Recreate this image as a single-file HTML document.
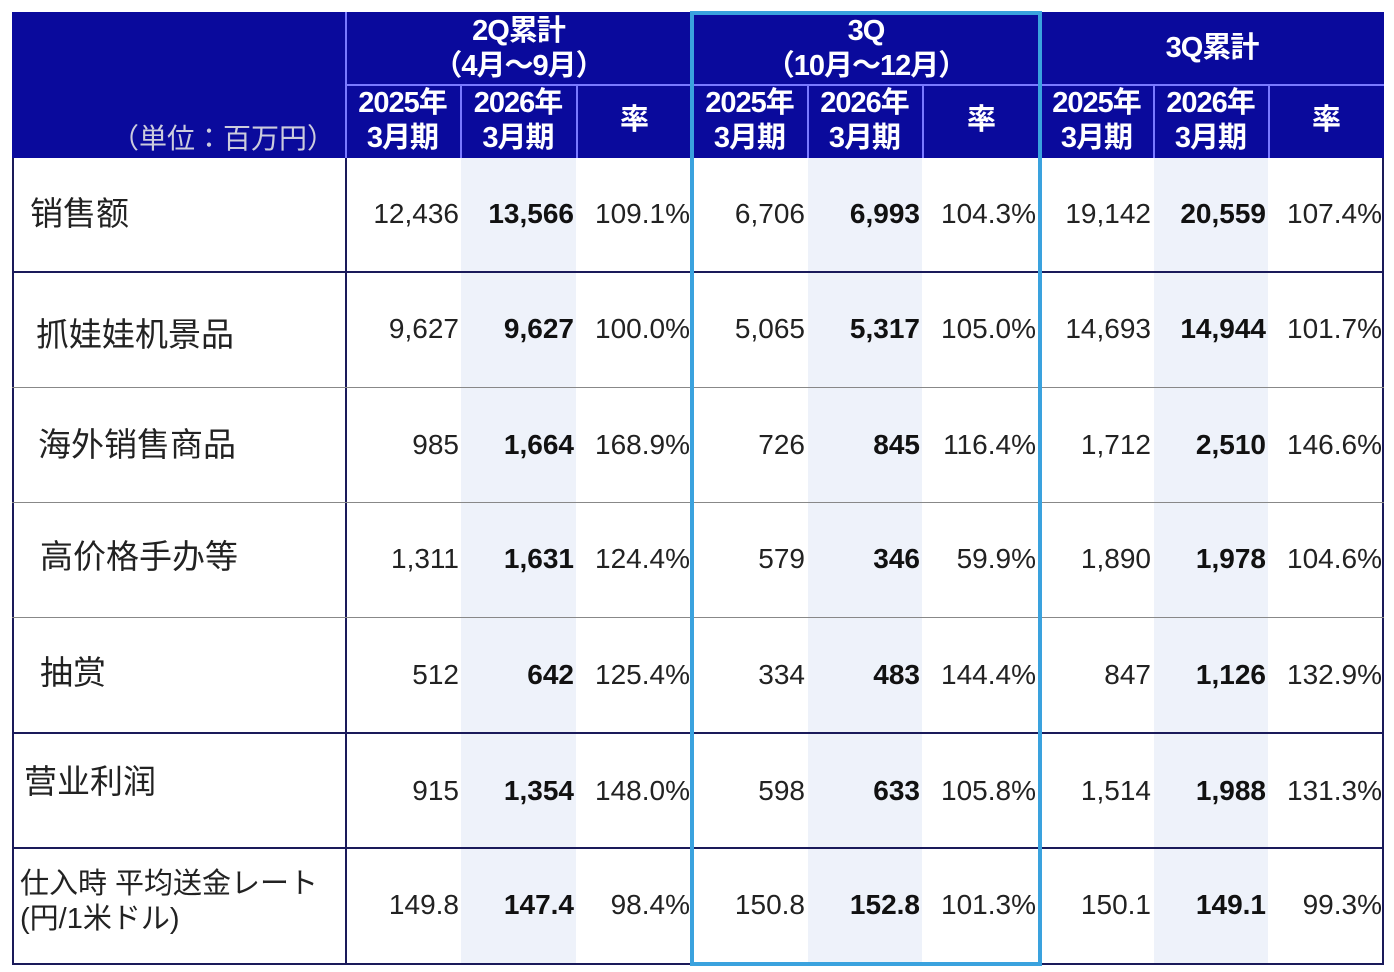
<!DOCTYPE html>
<html><head><meta charset="utf-8"><style>
body{margin:0;width:1394px;height:972px;background:#fff;position:relative;overflow:hidden;font-family:"Liberation Sans","Noto Sans CJK JP",sans-serif}
div{position:absolute;box-sizing:border-box}
.h{color:#fff;font-weight:bold;font-size:29px;text-align:center;line-height:35px;font-family:"Liberation Sans","Noto Sans CJK JP",sans-serif;letter-spacing:-1px}
.n{font-size:28px;color:#222;text-align:right;line-height:40px;height:40px}
.b{font-weight:bold;color:#111}
.l{font-size:33px;color:#222;font-family:"Liberation Sans","Noto Sans CJK SC",sans-serif;line-height:40px}
</style></head><body>
<div style="left:12px;top:12px;width:1372px;height:146px;background:#0a0a9c"></div>
<div style="left:461px;top:158px;width:115px;height:806px;background:#eef2fa"></div>
<div style="left:808px;top:158px;width:114px;height:806px;background:#eef2fa"></div>
<div style="left:1154px;top:158px;width:114px;height:806px;background:#eef2fa"></div>
<div style="left:345px;top:12px;width:2px;height:146px;background:#7a7aff"></div>
<div style="left:1040px;top:12px;width:2px;height:146px;background:#7a7aff"></div>
<div style="left:345px;top:84px;width:1039px;height:2px;background:#7a7aff"></div>
<div style="left:460px;top:86px;width:2px;height:72px;background:#7a7aff"></div>
<div style="left:576px;top:86px;width:2px;height:72px;background:#7a7aff"></div>
<div style="left:807px;top:86px;width:2px;height:72px;background:#7a7aff"></div>
<div style="left:922px;top:86px;width:2px;height:72px;background:#7a7aff"></div>
<div style="left:1153px;top:86px;width:2px;height:72px;background:#7a7aff"></div>
<div style="left:1268px;top:86px;width:2px;height:72px;background:#7a7aff"></div>
<div class="h" style="left:345px;top:14px;width:347px">2Q累計<br>（4月～9月）</div>
<div class="h" style="left:692px;top:14px;width:348px">3Q<br>（10月～12月）</div>
<div class="h" style="left:1040px;top:31px;width:344px">3Q累計</div>
<div class="h" style="left:345px;top:86px;width:115px">2025年<br>3月期</div>
<div class="h" style="left:460px;top:86px;width:116px">2026年<br>3月期</div>
<div class="h" style="left:576px;top:103px;width:116px">率</div>
<div class="h" style="left:692px;top:86px;width:115px">2025年<br>3月期</div>
<div class="h" style="left:807px;top:86px;width:115px">2026年<br>3月期</div>
<div class="h" style="left:922px;top:103px;width:118px">率</div>
<div class="h" style="left:1040px;top:86px;width:113px">2025年<br>3月期</div>
<div class="h" style="left:1153px;top:86px;width:115px">2026年<br>3月期</div>
<div class="h" style="left:1268px;top:103px;width:116px">率</div>
<div class="h" style="left:80px;top:121px;width:255px;text-align:right;font-weight:normal;font-size:28px;color:#ccd;letter-spacing:0">（単位：百万円）</div>
<div style="left:12px;top:158px;width:1372px;height:807px;border:2px solid #1a1a5a;border-top:none"></div>
<div style="left:345px;top:158px;width:2px;height:806px;background:#1a1a5a"></div>
<div style="left:1040px;top:158px;width:2px;height:806px;background:#1a1a5a"></div>
<div style="left:12px;top:271px;width:1372px;height:2px;background:#1a1a5a"></div>
<div style="left:12px;top:387px;width:1372px;height:1px;background:#888"></div>
<div style="left:12px;top:502px;width:1372px;height:1px;background:#888"></div>
<div style="left:12px;top:617px;width:1372px;height:1px;background:#888"></div>
<div style="left:12px;top:732px;width:1372px;height:2px;background:#1a1a5a"></div>
<div style="left:12px;top:847px;width:1372px;height:2px;background:#1a1a5a"></div>
<div style="left:690px;top:11px;width:352px;height:955px;border:4px solid #3aa2de"></div>
<div class="l" style="left:30px;top:194px">销售额</div>
<div class="l" style="left:36px;top:315px">抓娃娃机景品</div>
<div class="l" style="left:38px;top:425px">海外销售商品</div>
<div class="l" style="left:40px;top:537px">高价格手办等</div>
<div class="l" style="left:40px;top:653px">抽赏</div>
<div class="l" style="left:24px;top:762px">营业利润</div>
<div class="l" style="left:20px;top:867px;font-size:29px;line-height:35px">仕入時 平均送金レート<br>(円/1米ドル)</div>
<div id="nums"></div>
<script>
var rows=[
["12,436","13,566","109.1%","6,706","6,993","104.3%","19,142","20,559","107.4%",214],
["9,627","9,627","100.0%","5,065","5,317","105.0%","14,693","14,944","101.7%",329],
["985","1,664","168.9%","726","845","116.4%","1,712","2,510","146.6%",445],
["1,311","1,631","124.4%","579","346","59.9%","1,890","1,978","104.6%",559],
["512","642","125.4%","334","483","144.4%","847","1,126","132.9%",675],
["915","1,354","148.0%","598","633","105.8%","1,514","1,988","131.3%",791],
["149.8","147.4","98.4%","150.8","152.8","101.3%","150.1","149.1","99.3%",905]];
var rights=[459,574,690,805,920,1036,1151,1266,1382];
var h="";
rows.forEach(function(r){for(var i=0;i<9;i++){h+='<div class="n'+(i%3==1?' b':'')+'" style="left:'+(rights[i]-140)+'px;width:140px;top:'+(r[9]-20)+'px">'+r[i]+'</div>';}});
document.getElementById("nums").outerHTML=h;
</script>
</body></html>
